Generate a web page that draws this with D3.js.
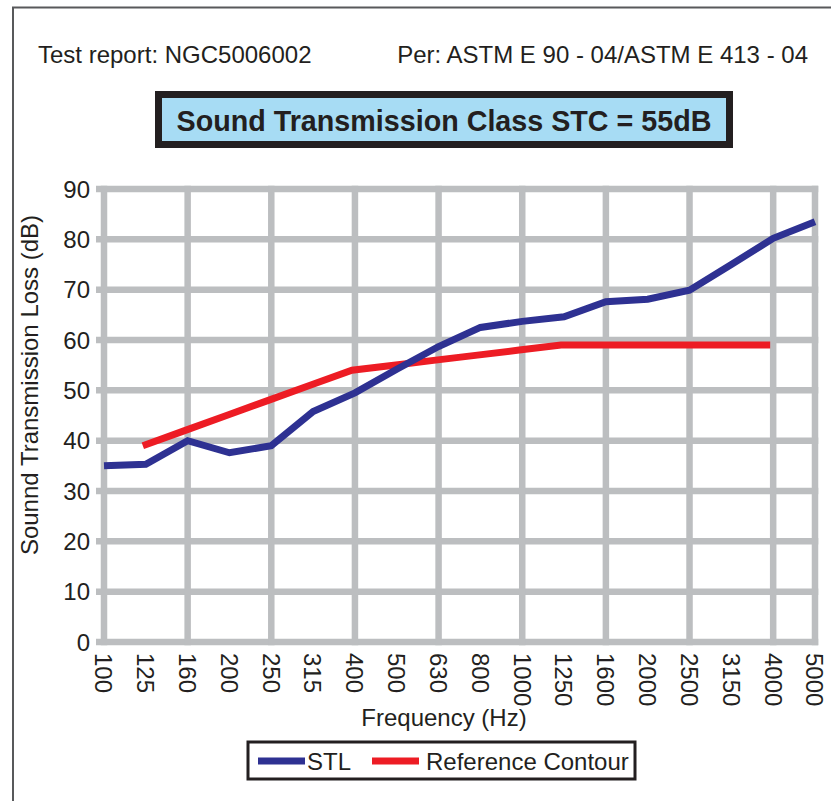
<!DOCTYPE html>
<html>
<head>
<meta charset="utf-8">
<script src="https://cdn.jsdelivr.net/npm/d3@7"></script>
<style>
  html, body { margin: 0; padding: 0; background: #fff; }
  svg { display: block; font-family: 'Liberation Sans', Arial, Helvetica, sans-serif; }
</style>
</head>
<body>
<div id="chart"></div>
<script>
// Frequency bands (Hz), one-third octave
var freqs = ['100', '125', '160', '200', '250', '315', '400', '500', '630',
             '800', '1000', '1250', '1600', '2000', '2500', '3150', '4000', '5000'];

// Measured sound transmission loss (dB)
var stl = [35, 35.3, 40, 37.6, 39, 45.8, 49.5, 54.2, 58.7,
           62.5, 63.7, 64.6, 67.6, 68.1, 69.9, 75, 80.2, 83.5];

// STC 55 reference contour, 125 Hz .. 4000 Hz
var refFreqs = ['125', '160', '200', '250', '315', '400', '500', '630',
                '800', '1000', '1250', '1600', '2000', '2500', '3150', '4000'];
var refValues = [39, 42, 45, 48, 51, 54, 55, 56, 57, 58, 59, 59, 59, 59, 59, 59];

var yTicks = [0, 10, 20, 30, 40, 50, 60, 70, 80, 90];
// vertical grid lines only on every other band, plus the right edge
var xGrid = ['100', '160', '250', '400', '630', '1000', '1600', '2500', '4000', '5000'];

var W = 831, H = 801;
var gridCol = '#bcbec0';
var blue = '#2e3192', red = '#ed1c24', ink = '#231f20';
var fs = 24;

var svg = d3.select('#chart').append('svg')
    .attr('width', W).attr('height', H);

// outer page frame (left + top edges)
svg.append('path')
    .attr('d', 'M13,801 L13,7.5 L831,7.5')
    .attr('fill', 'none')
    .attr('stroke', '#58595b')
    .attr('stroke-width', 2);

// header texts
svg.append('text')
    .attr('x', 38).attr('y', 63)
    .attr('font-size', fs).attr('fill', ink)
    .text('Test report: NGC5006002');
svg.append('text')
    .attr('x', 808).attr('y', 63)
    .attr('text-anchor', 'end')
    .attr('font-size', fs).attr('fill', ink)
    .text('Per: ASTM E 90 - 04/ASTM E 413 - 04');

// title box
svg.append('rect')
    .attr('x', 158.5).attr('y', 94.5)
    .attr('width', 571).attr('height', 50)
    .attr('fill', '#a7dcf4')
    .attr('stroke', ink)
    .attr('stroke-width', 7);
svg.append('text')
    .attr('x', 444).attr('y', 131)
    .attr('text-anchor', 'middle')
    .attr('font-size', 28.7).attr('font-weight', 700).attr('fill', ink)
    .text('Sound Transmission Class STC = 55dB');

// scales
var x = d3.scalePoint().domain(freqs).range([104, 815]);
var y = d3.scaleLinear().domain([0, 90]).range([642, 189]);

// grid
var grid = svg.append('g').attr('class', 'grid');
grid.selectAll('line.h').data(yTicks).enter().append('line')
    .attr('class', 'h')
    .attr('x1', 96).attr('x2', x('5000') + 3.25)
    .attr('y1', function (d) { return y(d); })
    .attr('y2', function (d) { return y(d); })
    .attr('stroke', gridCol).attr('stroke-width', 6.5);
grid.selectAll('line.v').data(xGrid).enter().append('line')
    .attr('class', 'v')
    .attr('x1', function (d) { return x(d); })
    .attr('x2', function (d) { return x(d); })
    .attr('y1', y(90) - 3.25).attr('y2', y(0) + 3.25)
    .attr('stroke', gridCol).attr('stroke-width', 6.5);

// y tick labels
svg.append('g').selectAll('text').data(yTicks).enter().append('text')
    .attr('x', 90)
    .attr('y', function (d) { return y(d); })
    .attr('dy', '0.36em')
    .attr('text-anchor', 'end')
    .attr('font-size', fs).attr('fill', ink)
    .text(function (d) { return d; });

// x tick labels, rotated to read top-to-bottom
svg.append('g').selectAll('text').data(freqs).enter().append('text')
    .attr('transform', function (d) { return 'translate(' + x(d) + ',653) rotate(90)'; })
    .attr('dy', '0.36em')
    .attr('font-size', fs).attr('fill', ink)
    .text(function (d) { return d; });

// axis titles
svg.append('text')
    .attr('transform', 'translate(29,385) rotate(-90)')
    .attr('dy', '0.36em')
    .attr('text-anchor', 'middle')
    .attr('font-size', fs).attr('fill', ink)
    .text('Sounnd Transmission Loss (dB)');
svg.append('text')
    .attr('x', 444).attr('y', 726)
    .attr('text-anchor', 'middle')
    .attr('font-size', fs).attr('fill', ink)
    .text('Frequency (Hz)');

// series
var line = d3.line()
    .x(function (d) { return x(d[0]); })
    .y(function (d) { return y(d[1]); });

// reference contour sits a few px left of the band centres in the original
svg.append('path')
    .datum(d3.zip(refFreqs, refValues))
    .attr('d', line)
    .attr('transform', 'translate(-3,0)')
    .attr('fill', 'none')
    .attr('stroke', red).attr('stroke-width', 7);

svg.append('path')
    .datum(d3.zip(freqs, stl))
    .attr('d', line)
    .attr('fill', 'none')
    .attr('stroke', blue).attr('stroke-width', 7);

// legend
var lg = svg.append('g');
lg.append('rect')
    .attr('x', 248).attr('y', 742)
    .attr('width', 387).attr('height', 37)
    .attr('fill', '#fff')
    .attr('stroke', ink).attr('stroke-width', 3);
lg.append('line')
    .attr('x1', 258).attr('x2', 305).attr('y1', 761).attr('y2', 761)
    .attr('stroke', blue).attr('stroke-width', 7);
lg.append('text')
    .attr('x', 307).attr('y', 761).attr('dy', '0.36em')
    .attr('font-size', fs).attr('fill', ink)
    .text('STL');
lg.append('line')
    .attr('x1', 372).attr('x2', 419).attr('y1', 761).attr('y2', 761)
    .attr('stroke', red).attr('stroke-width', 7);
lg.append('text')
    .attr('x', 426).attr('y', 761).attr('dy', '0.36em')
    .attr('font-size', fs).attr('fill', ink)
    .text('Reference Contour');
</script>
</body>
</html>
